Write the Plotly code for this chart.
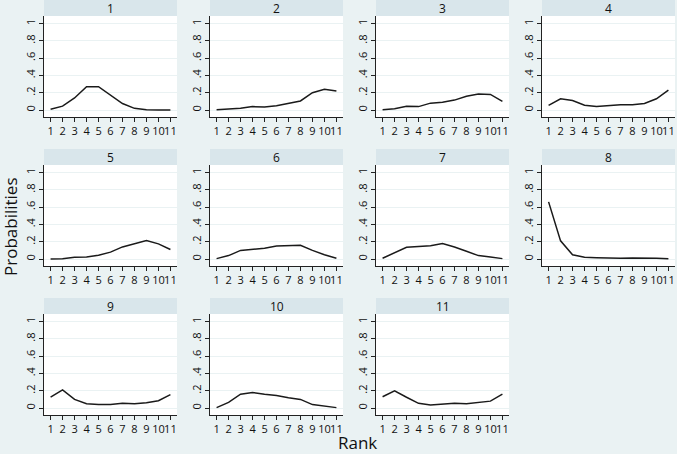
import plotly.graph_objects as go

ranks = list(range(1, 12))
rank_labels = [str(r) for r in ranks]
panel_titles = ["1", "2", "3", "4", "5", "6", "7", "8", "9", "10", "11"]

p1 = [0.01, 0.045, 0.14, 0.27, 0.27, 0.17, 0.075, 0.02, 0.005, 0.002, 0.001]
p2 = [0.003, 0.01, 0.02, 0.04, 0.035, 0.05, 0.075, 0.105, 0.2, 0.24, 0.22]
p3 = [0.003, 0.015, 0.045, 0.04, 0.08, 0.09, 0.115, 0.16, 0.185, 0.18, 0.1]
p4 = [0.055, 0.13, 0.11, 0.055, 0.04, 0.05, 0.06, 0.06, 0.075, 0.13, 0.23]
p5 = [0.0, 0.005, 0.02, 0.025, 0.045, 0.08, 0.14, 0.18, 0.215, 0.175, 0.11]
p6 = [0.005, 0.04, 0.1, 0.11, 0.125, 0.15, 0.155, 0.16, 0.1, 0.05, 0.01]
p7 = [0.01, 0.075, 0.135, 0.145, 0.155, 0.18, 0.14, 0.09, 0.04, 0.025, 0.005]
p8 = [0.66, 0.21, 0.05, 0.02, 0.015, 0.01, 0.01, 0.012, 0.012, 0.008, 0.003]
p9 = [0.125, 0.21, 0.1, 0.05, 0.04, 0.04, 0.055, 0.05, 0.06, 0.085, 0.155]
p10 = [0.005, 0.065, 0.16, 0.18, 0.16, 0.145, 0.12, 0.1, 0.04, 0.02, 0.005]
p11 = [0.13, 0.2, 0.125, 0.055, 0.035, 0.045, 0.055, 0.05, 0.065, 0.08, 0.16]
series = [p1, p2, p3, p4, p5, p6, p7, p8, p9, p10, p11]

y_ticks = [0, 0.2, 0.4, 0.6, 0.8, 1]
y_tick_labels = ["0", ".2", ".4", ".6", ".8", "1"]

W, H = 677, 454
BG = "#EAF2F3"
STRIP = "#D9E6EB"
FONT = "Open Sans"

fig = go.Figure()
shapes = []
annotations = []

for i, (vals, title) in enumerate(zip(series, panel_titles)):
    r, c = divmod(i, 4)
    x0 = 44 + 166 * c
    x1 = x0 + 133
    strip_top = 149 * r
    top = strip_top + 16
    bottom = top + 101
    n = i + 1
    xa = "xaxis" if n == 1 else f"xaxis{n}"
    ya = "yaxis" if n == 1 else f"yaxis{n}"
    fig.add_trace(go.Scatter(
        x=ranks, y=vals, mode="lines",
        line=dict(color="#1a1a1a", width=1.5),
        xaxis="x" if n == 1 else f"x{n}",
        yaxis="y" if n == 1 else f"y{n}",
        showlegend=False, hoverinfo="skip"))
    fig.layout[xa] = dict(
        domain=[x0 / W, x1 / W], range=[0.45, 11.55],
        anchor="y" if n == 1 else f"y{n}",
        tickmode="array", tickvals=ranks, ticktext=rank_labels,
        tickangle=0, automargin=False,
        ticks="outside", ticklen=4, tickwidth=1, tickcolor="#222",
        showline=True, linecolor="#222", linewidth=1,
        showgrid=False, zeroline=False,
        tickfont=dict(family=FONT, size=11, color="#111"), fixedrange=True)
    fig.layout[ya] = dict(
        domain=[1 - bottom / H, 1 - top / H], range=[-0.08, 1.085],
        anchor="x" if n == 1 else f"x{n}",
        tickmode="array", tickvals=y_ticks, ticktext=y_tick_labels,
        tickangle=-90, automargin=False,
        ticks="outside", ticklen=4, tickwidth=1, tickcolor="#222",
        showline=True, linecolor="#222", linewidth=1,
        showgrid=True, gridcolor=BG, gridwidth=1, zeroline=False,
        tickfont=dict(family=FONT, size=11, color="#111"), fixedrange=True)
    shapes.append(dict(type="rect", xref="paper", yref="paper",
                       x0=x0 / W, x1=x1 / W,
                       y0=1 - top / H, y1=1 - strip_top / H,
                       fillcolor=STRIP, line=dict(width=0), layer="below"))
    annotations.append(dict(text=title, xref="paper", yref="paper",
                            x=(x0 + x1) / 2 / W, y=1 - (strip_top + 8) / H,
                            xanchor="center", yanchor="middle", showarrow=False,
                            font=dict(family=FONT, size=12, color="#111")))

annotations.append(dict(text="Probabilities", xref="paper", yref="paper",
                        x=10 / W, y=1 - 227 / H, textangle=-90,
                        xanchor="center", yanchor="middle", showarrow=False,
                        font=dict(family=FONT, size=17, color="#111")))
annotations.append(dict(text="Rank", xref="paper", yref="paper",
                        x=357 / W, y=0, yshift=-2,
                        xanchor="center", yanchor="bottom", showarrow=False,
                        font=dict(family=FONT, size=17, color="#111")))

fig.update_layout(
    template="none",
    width=W, height=H, margin=dict(l=0, r=0, t=0, b=0, autoexpand=False),
    paper_bgcolor=BG, plot_bgcolor="white",
    shapes=shapes, annotations=annotations)

fig.write_html(
    "out.html",
    config={"displayModeBar": False, "staticPlot": True},
    post_script="document.body.style.margin='0';document.body.style.overflow='hidden';",
)
